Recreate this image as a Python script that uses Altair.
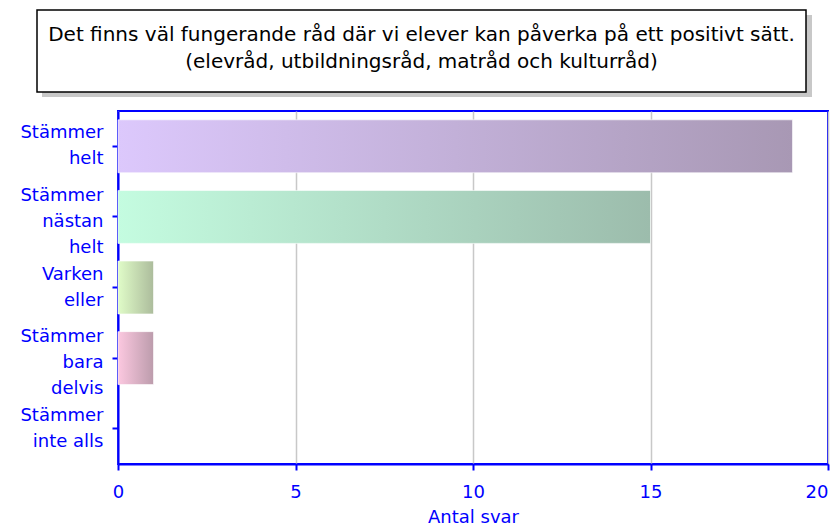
import altair as alt
import pandas as pd

categories = ["Stämmer\nhelt", "Stämmer\nnästan\nhelt", "Varken\neller", "Stämmer\nbara\ndelvis", "Stämmer\ninte alls"]
values = [19, 15, 1, 1, 0]
grad_start = ["#dcc8fc", "#c4fce0", "#e0fcc8", "#fcc8e0", "#dddddd"]
grad_end = ["#a898b4", "#9cbcac", "#acbc9c", "#bc9cac", "#aaaaaa"]
title_lines = ["Det finns väl fungerande råd där vi elever kan påverka på ett positivt sätt.",
               "(elevråd, utbildningsråd, matråd och kulturråd)"]
x_ticks = [0, 5, 10, 15, 20]

df = pd.DataFrame({"cat": categories, "val": values})

BLUE = "#0000ff"
FONT = "DejaVu Sans"

yenc = alt.Y("cat:N", sort=categories,
             scale=alt.Scale(domain=categories, paddingInner=0.25, paddingOuter=0.125),
             axis=alt.Axis(title=None, labelExpr="split(datum.label, '\\n')",
                           labelColor=BLUE, labelFont=FONT, labelFontSize=18,
                           labelLineHeight=26, labelPadding=9, tickColor=BLUE,
                           tickWidth=2, tickSize=6, domainColor=BLUE, domainWidth=2,
                           grid=False, labelBaseline="middle",
                           labelOffset={"condition": {"test": "length(split(datum.label, '\\n')) == 3",
                                                      "value": -21},
                                        "value": -13}))
xenc = alt.X("val:Q", scale=alt.Scale(domain=[0, 20], nice=False),
             axis=alt.Axis(values=x_ticks, title="Antal svar", titleColor=BLUE,
                           titleFont=FONT, titleFontSize=18, titleFontWeight="normal",
                           labelColor=BLUE, labelFont=FONT, labelFontSize=18,
                           labelPadding=13, titlePadding=7, labelFlush=False,
                           labelAlign={"condition": {"test": "datum.value == 20", "value": "right"},
                                       "value": "center"},
                           tickColor=BLUE, tickWidth=2, tickSize=6,
                           domainColor=BLUE, domainWidth=2,
                           grid=True, gridColor="#c8c8c8", gridWidth=1.5))

layers = []
for i, c in enumerate(categories):
    if values[i] <= 0:
        continue
    g = alt.Gradient(gradient="linear", x1=0, x2=1, y1=0, y2=0,
                     stops=[alt.GradientStop(color=grad_start[i], offset=0),
                            alt.GradientStop(color=grad_end[i], offset=1)])
    layers.append(
        alt.Chart(df).transform_filter(alt.datum.cat == c)
        .mark_bar(color=g, stroke="#ffffff", strokeOpacity=0.6, strokeWidth=1)
        .encode(x=xenc, y=yenc)
    )

base = alt.Chart(df).mark_bar(opacity=0).encode(x=xenc, y=yenc)

box_df = pd.DataFrame({"k": [0]})
shadow = alt.Chart(box_df).mark_rect(color="#c8c8c8").encode(
    x=alt.value(-76), x2=alt.value(694), y=alt.value(-96), y2=alt.value(-14))
box = alt.Chart(box_df).mark_rect(fill="white", stroke="black", strokeWidth=1.5).encode(
    x=alt.value(-81), x2=alt.value(688), y=alt.value(-101), y2=alt.value(-19))
t1 = alt.Chart(box_df).mark_text(font=FONT, fontSize=20, color="black").encode(
    x=alt.value(303.5), y=alt.value(-76), text=alt.value(title_lines[0]))
t2 = alt.Chart(box_df).mark_text(font=FONT, fontSize=20, color="black").encode(
    x=alt.value(303.5), y=alt.value(-49), text=alt.value(title_lines[1]))

chart = alt.layer(base, *layers, shadow, box, t1, t2).properties(
    width=710, height=353,
    background="white",
    autosize=alt.AutoSizeParams(type="none"),
    padding={"left": 110, "top": 103, "right": 3, "bottom": 66},
).configure_view(stroke=BLUE, strokeWidth=2)

chart.save("out.html", embed_options={"renderer": "svg", "actions": False})
